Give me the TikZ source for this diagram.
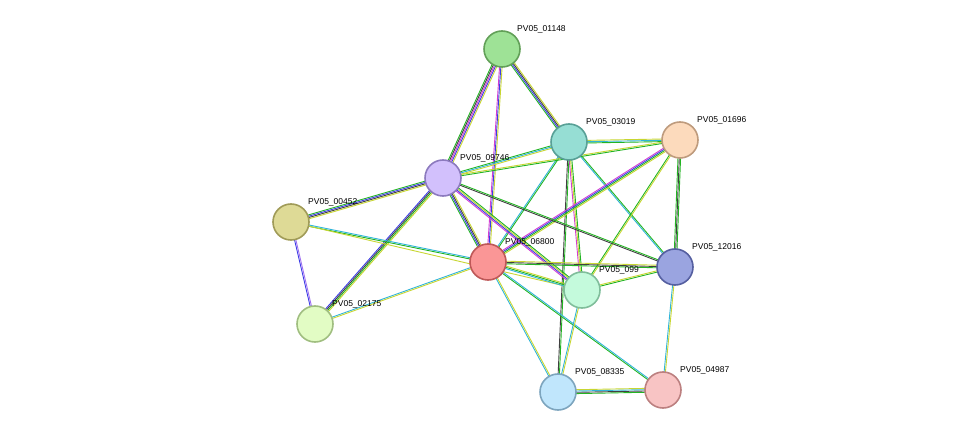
\documentclass[tikz,border=0pt]{standalone}
\usepackage{fontspec}
\setmainfont{Liberation Sans}
\usetikzlibrary{calc}

\definecolor{eg}{HTML}{22B422}
\definecolor{eb}{HTML}{3C3CE6}
\definecolor{ek}{HTML}{404040}
\definecolor{ey}{HTML}{C8D632}
\definecolor{em}{HTML}{D23CD2}
\definecolor{ec}{HTML}{30B4D8}
\definecolor{ep}{HTML}{A070F0}

% one coloured strand per entry, side by side
\newcommand{\strands}[3]{%
  \foreach \c [count=\i] in {#3} {\xdef\nstr{\i}}%
  \foreach \c [count=\i] in {#3} {%
    \pgfmathsetmacro{\off}{(\i-(\nstr+1)/2)*1.3}%
    \draw[\c, line width=0.9pt] ($(#1)!\off pt!90:(#2)$) -- ($(#2)!\off pt!-90:(#1)$);
  }%
}

\begin{document}
\begin{tikzpicture}[x=1pt,y=-1pt,
  prot/.style={circle, minimum size=36pt, inner sep=0pt, line width=1.6pt},
  lab/.style={anchor=south west, font=\fontsize{8.5pt}{9pt}\selectfont, inner sep=1pt}]
\useasboundingbox (0,0) rectangle (975,438);

\coordinate (n01148) at (502,49);
\coordinate (n03019) at (569,142);
\coordinate (n01696) at (680,140);
\coordinate (n09746) at (443,178);
\coordinate (n00452) at (291,222);
\coordinate (n06800) at (488,262);
\coordinate (n12016) at (675,267);
\coordinate (n099) at (582,290);
\coordinate (n02175) at (315,324);
\coordinate (n08335) at (558,392);
\coordinate (n04987) at (663,390);

% edges
\strands{n01148}{n09746}{eg,ek,em,eb,ey}
\strands{n01148}{n03019}{eg,eb,ek,ey}
\strands{n01148}{n06800}{em,eb,ey}
\strands{n03019}{n09746}{eg,ec,ey}
\strands{n03019}{n01696}{eg,ec,ey}
\strands{n03019}{n06800}{ec,eg}
\strands{n03019}{n12016}{ec,eg}
\strands{n03019}{n099}{em,ey,eg}
\strands{n03019}{n08335}{ek,eg}
\strands{n01696}{n09746}{ey,eg}
\strands{n01696}{n06800}{em,eb,eg,ey}
\strands{n01696}{n12016}{eg,ek,eg}
\strands{n01696}{n099}{eg,ey}
\strands{n09746}{n00452}{eg,eb,ek,ey}
\strands{n09746}{n06800}{eg,eb,ek,ey}
\strands{n09746}{n02175}{eb,ek,eg,ey}
\strands{n09746}{n12016}{ek,eg}
\strands{n09746}{n099}{em,eb,ey,eg}
\strands{n00452}{n06800}{eg,ec}
\strands{n00452}{n02175}{eb,ep}
\strands{n00452}{n099}{ey}
\strands{n06800}{n12016}{eg,ek,ey}
\strands{n06800}{n099}{ec,eg,ey}
\strands{n06800}{n02175}{ec,ey}
\strands{n06800}{n08335}{ec,ey}
\strands{n06800}{n04987}{eg,ec}
\strands{n099}{n12016}{eg,ey}
\strands{n099}{n08335}{ec,ey}
\strands{n08335}{n04987}{eg,ek,ec,ey}
\strands{n12016}{n04987}{ec,ey}

% labels
\node[lab] (l01148) at (516,34) {PV05\_01148};
\node[lab] (l03019) at (585,127) {PV05\_03019};
\node[lab] (l01696) at (696,125) {PV05\_01696};
\node[lab] (l09746) at (459,163) {PV05\_09746};
\node[lab] (l00452) at (307,207) {PV05\_00452};
\node[lab] (l06800) at (504,247) {PV05\_06800};
\node[lab] (l12016) at (691,252) {PV05\_12016};
\node[lab] (l099) at (598,275) {PV05\_099};
\node[lab] (l02175) at (331,309) {PV05\_02175};
\node[lab] (l08335) at (574,377) {PV05\_08335};
\node[lab] (l04987) at (679,375) {PV05\_04987};

% proteins
\node[prot, fill={rgb,255:red,158;green,226;blue,150}, draw={rgb,255:red,98;green,160;blue,88}] (p01148) at (n01148) {};
\node[prot, fill={rgb,255:red,150;green,222;blue,212}, draw={rgb,255:red,88;green,160;blue,150}] (p03019) at (n03019) {};
\node[prot, fill={rgb,255:red,252;green,218;blue,188}, draw={rgb,255:red,190;green,155;blue,125}] (p01696) at (n01696) {};
\node[prot, fill={rgb,255:red,210;green,192;blue,252}, draw={rgb,255:red,140;green,122;blue,190}] (p09746) at (n09746) {};
\node[prot, fill={rgb,255:red,222;green,218;blue,150}, draw={rgb,255:red,160;green,155;blue,88}] (p00452) at (n00452) {};
\node[prot, fill={rgb,255:red,250;green,150;blue,150}, draw={rgb,255:red,190;green,88;blue,88}] (p06800) at (n06800) {};
\node[prot, fill={rgb,255:red,154;green,164;blue,224}, draw={rgb,255:red,85;green,95;blue,160}] (p12016) at (n12016) {};
\node[prot, fill={rgb,255:red,196;green,250;blue,220}, draw={rgb,255:red,128;green,190;blue,155}] (p099) at (n099) {};
\node[prot, fill={rgb,255:red,226;green,252;blue,196}, draw={rgb,255:red,160;green,190;blue,128}] (p02175) at (n02175) {};
\node[prot, fill={rgb,255:red,192;green,230;blue,252}, draw={rgb,255:red,125;green,165;blue,190}] (p08335) at (n08335) {};
\node[prot, fill={rgb,255:red,248;green,196;blue,196}, draw={rgb,255:red,188;green,128;blue,128}] (p04987) at (n04987) {};
\end{tikzpicture}
\end{document}
